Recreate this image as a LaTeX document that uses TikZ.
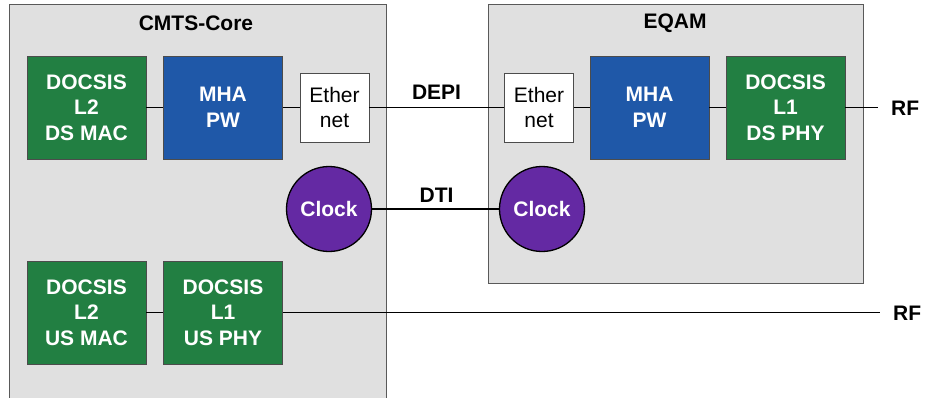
\documentclass[tikz,border=0pt]{standalone}
\usepackage{fontspec}
\setmainfont{Liberation Sans}
\definecolor{boxgray}{HTML}{E0E0E0}
\definecolor{dgreen}{HTML}{227F42}
\definecolor{dblue}{HTML}{1F58A8}
\definecolor{dpurple}{HTML}{6429A3}
\tikzset{
  container/.style={draw=black!65, line width=0.8pt, fill=boxgray},
  blk/.style={draw=black!70, line width=0.8pt, minimum width=119pt, minimum height=103pt, text=white, font=\fontsize{21}{25.5}\selectfont\bfseries, align=center, inner sep=0pt},
  greenblk/.style={blk, fill=dgreen},
  blueblk/.style={blk, fill=dblue},
  ethblk/.style={draw=black!70, line width=0.8pt, fill=white, minimum width=69pt, minimum height=69pt, font=\fontsize{21}{25.5}\selectfont, align=center, inner sep=0pt},
  clockc/.style={circle, draw=black, line width=1.3pt, fill=dpurple, minimum size=85pt, inner sep=0pt, text=white, font=\fontsize{21}{25}\selectfont\bfseries},
  title/.style={font=\fontsize{21}{25}\selectfont\bfseries, inner sep=0pt},
  wire/.style={line width=1.6pt, black},
  thinwire/.style={line width=1.3pt, black}
}
\begin{document}
\begin{tikzpicture}[x=1pt,y=-1pt]
\clip (0,0) rectangle (925,397);
\fill[white] (0,0) rectangle (925,397);
% containers
\draw[container] (9,4.5) rectangle (386,410);
\draw[container] (488,4.5) rectangle (863,283);
\node[title] (cmtstitle) at (196,23) {CMTS-Core};
\node[title] (eqamtitle) at (675,23) {EQAM};
% CMTS downstream
\node[greenblk] (dsmac) at (86.5,107.5) {DOCSIS\\L2\\DS MAC};
\node[blueblk] (pw1) at (223,107.5) {MHA\\PW};
\node[ethblk] (eth1) at (334.5,107.5) {Ether\\net};
% EQAM
\node[ethblk] (eth2) at (539,107.5) {Ether\\net};
\node[blueblk] (pw2) at (649.5,107.5) {MHA\\PW};
\node[greenblk] (dsphy) at (785.5,107.5) {DOCSIS\\L1\\DS PHY};
% clocks
\node[clockc] (clk1) at (329,209) {Clock};
\node[clockc] (clk2) at (542,209) {Clock};
% upstream
\node[greenblk] (usmac) at (86.5,312.5) {DOCSIS\\L2\\US MAC};
\node[greenblk] (usphy) at (223,312.5) {DOCSIS\\L1\\US PHY};
% labels
\node[title] (depi) at (436.5,92) {DEPI};
\node[title] (dti) at (436.5,195) {DTI};
\node[title, anchor=west] (rf1) at (891,108) {RF};
\node[title, anchor=west] (rf2) at (893,313) {RF};
\coordinate (rf1end) at (878,107.5);
\coordinate (rf2end) at (880,312.5);
% connectors
\draw[wire] (dsmac) -- (pw1);
\draw[wire] (pw1) -- (eth1);
\draw[wire] (eth1) -- (eth2);
\draw[wire] (eth2) -- (pw2);
\draw[wire] (pw2) -- (dsphy);
\draw[wire] (dsphy.east) -- (rf1end);
\draw[thinwire] (clk1) -- (clk2);
\draw[wire] (usmac) -- (usphy);
\draw[wire] (usphy.east) -- (rf2end);
\end{tikzpicture}
\end{document}
